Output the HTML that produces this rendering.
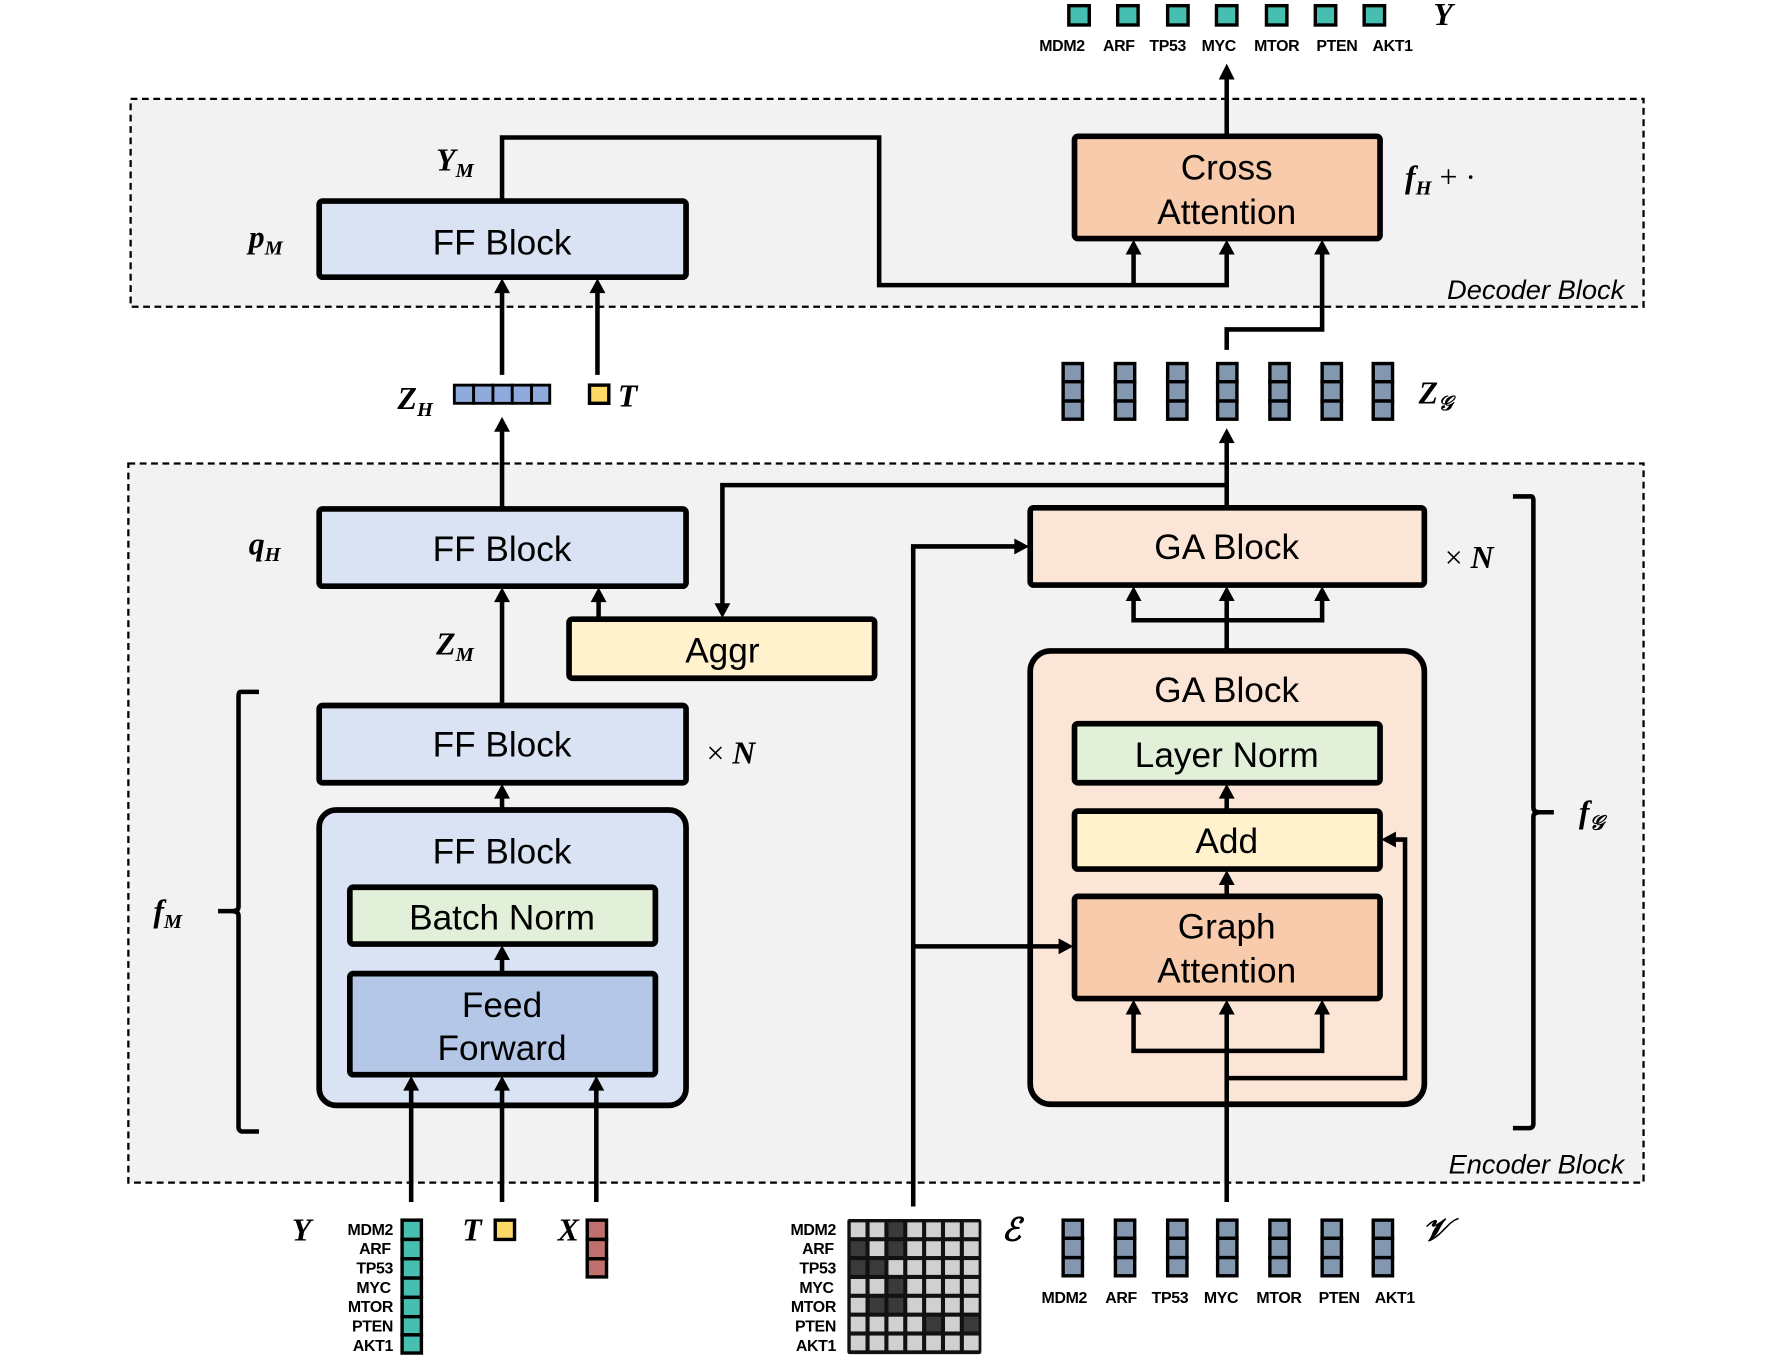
<!DOCTYPE html>
<html><head><meta charset="utf-8"><style>
html,body{margin:0;padding:0;background:#fff;}
svg{display:block;}
.box{stroke:#000;stroke-width:5;}
.bt{font-family:"Liberation Sans",sans-serif;font-size:31px;text-anchor:middle;fill:#000;}
.ln{stroke:#000;stroke-width:4;fill:none;}
.m{font-family:"Liberation Serif",serif;font-style:italic;font-weight:bold;font-size:28px;fill:#000;}
.ms{font-family:"Liberation Serif",serif;font-style:italic;font-weight:bold;font-size:18px;fill:#000;}
.g{font-family:"Liberation Sans",sans-serif;font-weight:bold;font-size:14px;fill:#000;letter-spacing:-0.3px;}
.blk{font-family:"Liberation Sans",sans-serif;font-style:italic;font-size:24px;fill:#000;text-anchor:end;}
</style></head><body>
<svg width="1781" height="1361" viewBox="0 0 1568 1198" preserveAspectRatio="none" xmlns="http://www.w3.org/2000/svg">
<!-- block backgrounds -->
<rect x="115" y="87" width="1332" height="183" fill="#f2f2f2" stroke="#000" stroke-width="2" stroke-dasharray="6,4"/>
<rect x="113" y="408" width="1334" height="633" fill="#f2f2f2" stroke="#000" stroke-width="2" stroke-dasharray="6,4"/>
<text class="blk" x="1430" y="263">Decoder Block</text>
<text class="blk" x="1430" y="1033">Encoder Block</text>

<!-- boxes -->
<rect class="box" x="281" y="177" width="323" height="67" rx="3" fill="#dae3f3"/>
<text class="bt" x="442" y="224">FF Block</text>
<rect class="box" x="946" y="120" width="269" height="90" rx="3" fill="#f8cbad"/>
<text class="bt" x="1080" y="158">Cross</text>
<text class="bt" x="1080" y="197">Attention</text>

<rect class="box" x="281" y="448" width="323" height="68" rx="3" fill="#dae3f3"/>
<text class="bt" x="442" y="494">FF Block</text>
<rect class="box" x="501" y="545" width="269" height="52" rx="3" fill="#fff2cc"/>
<text class="bt" x="636" y="583">Aggr</text>
<rect class="box" x="281" y="621" width="323" height="68" rx="3" fill="#dae3f3"/>
<text class="bt" x="442" y="666">FF Block</text>
<rect class="box" x="281" y="713" width="323" height="260" rx="15" fill="#dae3f3"/>
<text class="bt" x="442" y="760">FF Block</text>
<rect class="box" x="308" y="781" width="269" height="50" rx="3" fill="#e2f0d9"/>
<text class="bt" x="442" y="818">Batch Norm</text>
<rect class="box" x="308" y="857" width="269" height="89" rx="3" fill="#b4c7e7"/>
<text class="bt" x="442" y="895">Feed</text>
<text class="bt" x="442" y="933">Forward</text>

<rect class="box" x="907" y="447" width="347" height="68" rx="3" fill="#fbe5d6"/>
<text class="bt" x="1080" y="492">GA Block</text>
<rect class="box" x="907" y="573" width="347" height="399" rx="18" fill="#fbe5d6"/>
<text class="bt" x="1080" y="618">GA Block</text>
<rect class="box" x="946" y="637" width="269" height="52" rx="3" fill="#e2f0d9"/>
<text class="bt" x="1080" y="675">Layer Norm</text>
<rect class="box" x="946" y="714" width="269" height="51" rx="3" fill="#fff2cc"/>
<text class="bt" x="1080" y="751">Add</text>
<rect class="box" x="946" y="789" width="269" height="90" rx="3" fill="#f8cbad"/>
<text class="bt" x="1080" y="826">Graph</text>
<text class="bt" x="1080" y="865">Attention</text>

<!-- connectors -->
<g class="ln">
<polyline points="1080,118 1080,68"/>
<polyline points="442,177 442,121 774,121 774,251 1080,251 1080,222"/>
<polyline points="998,251 998,222"/>
<polyline points="1080,308 1080,290 1164,290 1164,222"/>
<polyline points="442,330 442,256"/>
<polyline points="526,330 526,256"/>
<polyline points="442,446 442,378"/>
<polyline points="1080,446 1080,388"/>
<polyline points="1080,427 636,427 636,533"/>
<polyline points="527,545 527,528"/>
<polyline points="442,621 442,528"/>
<polyline points="442,713 442,701"/>
<polyline points="442,857 442,843"/>
<polyline points="362,1058 362,958"/>
<polyline points="442,1058 442,958"/>
<polyline points="525,1058 525,958"/>
<polyline points="804,1062 804,481 895,481"/>
<polyline points="804,833 934,833"/>
<polyline points="1080,1058 1080,891"/>
<polyline points="998,891 998,925 1164,925 1164,891"/>
<polyline points="1080,949 1237,949 1237,739 1227,739"/>
<polyline points="1080,787 1080,777"/>
<polyline points="1080,712 1080,701"/>
<polyline points="1080,573 1080,527"/>
<polyline points="998,527 998,546 1164,546 1164,527"/>
</g>
<!-- arrowheads -->
<g fill="#000">
<polygon points="1080,56 1073,70 1087,70"/>
<polygon points="1080,211 1073,224 1087,224"/>
<polygon points="998,211 991,224 1005,224"/>
<polygon points="1164,211 1157,224 1171,224"/>
<polygon points="442,245 435,258 449,258"/>
<polygon points="526,245 519,258 533,258"/>
<polygon points="442,367 435,380 449,380"/>
<polygon points="1080,377 1073,390 1087,390"/>
<polygon points="636,544 629,531 643,531"/>
<polygon points="527,517 520,530 534,530"/>
<polygon points="442,517 435,530 449,530"/>
<polygon points="442,690 435,703 449,703"/>
<polygon points="442,832 435,845 449,845"/>
<polygon points="362,947 355,960 369,960"/>
<polygon points="442,947 435,960 449,960"/>
<polygon points="525,947 518,960 532,960"/>
<polygon points="906,481 893,474 893,488"/>
<polygon points="945,833 932,826 932,840"/>
<polygon points="1080,880 1073,893 1087,893"/>
<polygon points="998,880 991,893 1005,893"/>
<polygon points="1164,880 1157,893 1171,893"/>
<polygon points="1216,739 1229,732 1229,746"/>
<polygon points="1080,766 1073,779 1087,779"/>
<polygon points="1080,690 1073,703 1087,703"/>
<polygon points="1080,516 1073,529 1087,529"/>
<polygon points="998,516 991,529 1005,529"/>
<polygon points="1164,516 1157,529 1171,529"/>
</g>

<!-- braces -->
<g class="ln" stroke-width="4">
<path d="M228,609 L212,609 Q210,609 210,613 L210,798 Q210,802 204,802 L192,802 M204,802 Q210,802 210,806 L210,992 Q210,996 214,996 L228,996"/>
<path d="M1332,437 L1348,437 Q1350,437 1350,441 L1350,711 Q1350,715 1356,715 L1368,715 M1356,715 Q1350,715 1350,719 L1350,989 Q1350,993 1346,993 L1332,993"/>
</g>

<!-- math labels -->
<text class="m" x="384" y="150">Y<tspan class="ms" dy="6">M</tspan></text>
<text class="m" x="219" y="218">p<tspan class="ms" dy="6">M</tspan></text>
<text class="m" x="1237" y="165">f<tspan class="ms" dy="6">H</tspan><tspan dy="-6" font-style="normal" font-weight="normal"> + ·</tspan></text>
<text class="m" x="350" y="360">Z<tspan class="ms" dy="6">H</tspan></text>
<text class="m" x="544" y="358">T</text>
<text class="m" x="1249" y="355">Z<tspan class="ms" dy="6">𝒢</tspan></text>
<text class="m" x="219" y="488">q<tspan class="ms" dy="6">H</tspan></text>
<text class="m" x="384" y="576">Z<tspan class="ms" dy="6">M</tspan></text>
<text class="m" x="622" y="672"><tspan font-style="normal" font-weight="normal">× </tspan>N</text>
<text class="m" x="1272" y="500"><tspan font-style="normal" font-weight="normal">× </tspan>N</text>
<text class="m" x="135" y="811">f<tspan class="ms" dy="6">M</tspan></text>
<text class="m" x="1390" y="724">f<tspan class="ms" dy="6">𝒢</tspan></text>
<text class="m" x="1262" y="22">Y</text>
<text class="m" x="257" y="1092">Y</text>
<text class="m" x="407" y="1092">T</text>
<text class="m" x="491" y="1092">X</text>
<text class="m" x="882" y="1092">ℰ</text>
<text class="m" x="1252" y="1092">𝒱</text>

<!-- top Y vector -->
<g fill="#47bfb0" stroke="#000" stroke-width="3">
<rect x="941" y="5" width="18" height="17"/><rect x="984" y="5" width="18" height="17"/><rect x="1028" y="5" width="18" height="17"/><rect x="1071" y="5" width="18" height="17"/><rect x="1115" y="5" width="18" height="17"/><rect x="1158" y="5" width="18" height="17"/><rect x="1201" y="5" width="18" height="17"/>
</g>
<g class="g" text-anchor="middle">
<text x="935" y="45">MDM2</text><text x="985" y="45">ARF</text><text x="1028" y="45">TP53</text><text x="1073" y="45">MYC</text><text x="1124" y="45">MTOR</text><text x="1177" y="45">PTEN</text><text x="1226" y="45">AKT1</text>
</g>

<!-- Z_H and T -->
<g fill="#8faadc" stroke="#000" stroke-width="2.5">
<rect x="400" y="339" width="17" height="16"/><rect x="417" y="339" width="17" height="16"/><rect x="434" y="339" width="17" height="16"/><rect x="451" y="339" width="17" height="16"/><rect x="468" y="339" width="16" height="16"/>
</g>
<rect x="519" y="339" width="17" height="16" fill="#ffd966" stroke="#000" stroke-width="3"/>

<!-- Z_G and V columns -->
<g fill="#8497b0" stroke="#000" stroke-width="3">
<g id="col"><rect x="936" y="320" width="17" height="16"/><rect x="936" y="336" width="17" height="17"/><rect x="936" y="353" width="17" height="16"/></g>
<use href="#col" x="46"/><use href="#col" x="92"/><use href="#col" x="136"/><use href="#col" x="182"/><use href="#col" x="228"/><use href="#col" x="273"/>
<use href="#col" x="0" y="754"/><use href="#col" x="46" y="754"/><use href="#col" x="92" y="754"/><use href="#col" x="136" y="754"/><use href="#col" x="182" y="754"/><use href="#col" x="228" y="754"/><use href="#col" x="273" y="754"/>
</g>
<g class="g" text-anchor="middle">
<text x="937" y="1147">MDM2</text><text x="987" y="1147">ARF</text><text x="1030" y="1147">TP53</text><text x="1075" y="1147">MYC</text><text x="1126" y="1147">MTOR</text><text x="1179" y="1147">PTEN</text><text x="1228" y="1147">AKT1</text>
</g>

<!-- bottom left Y column -->
<g fill="#47bfb0" stroke="#000" stroke-width="3">
<rect x="354" y="1074" width="17" height="17"/><rect x="354" y="1091" width="17" height="17"/><rect x="354" y="1108" width="17" height="17"/><rect x="354" y="1125" width="17" height="17"/><rect x="354" y="1142" width="17" height="17"/><rect x="354" y="1159" width="17" height="16"/><rect x="354" y="1175" width="17" height="16"/>
</g>
<g class="g" text-anchor="end">
<text x="346" y="1087">MDM2</text><text x="344" y="1104">ARF</text><text x="346" y="1121">TP53</text><text x="344" y="1138">MYC</text><text x="346" y="1155">MTOR</text><text x="346" y="1172">PTEN</text><text x="346" y="1189">AKT1</text>
</g>
<rect x="436" y="1074" width="17" height="17" fill="#ffd966" stroke="#000" stroke-width="3"/>
<g fill="#c0706c" stroke="#000" stroke-width="3">
<rect x="517" y="1074" width="17" height="17"/><rect x="517" y="1091" width="17" height="17"/><rect x="517" y="1108" width="17" height="16"/>
</g>

<!-- matrix -->
<rect x="746" y="1073" width="118" height="119" fill="#111" rx="2"/>
<g fill="#d0d0d0">
<rect x="749" y="1076" width="13" height="13"/><rect x="765.6" y="1076" width="13" height="13"/><rect x="782.2" y="1076" width="13" height="13" fill="#3a3a3a"/><rect x="798.8" y="1076" width="13" height="13"/><rect x="815.4" y="1076" width="13" height="13"/><rect x="832" y="1076" width="13" height="13"/><rect x="848.6" y="1076" width="13" height="13"/>
<rect x="749" y="1092.6" width="13" height="13" fill="#3a3a3a"/><rect x="765.6" y="1092.6" width="13" height="13"/><rect x="782.2" y="1092.6" width="13" height="13" fill="#3a3a3a"/><rect x="798.8" y="1092.6" width="13" height="13"/><rect x="815.4" y="1092.6" width="13" height="13"/><rect x="832" y="1092.6" width="13" height="13"/><rect x="848.6" y="1092.6" width="13" height="13"/>
<rect x="749" y="1109.2" width="13" height="13" fill="#3a3a3a"/><rect x="765.6" y="1109.2" width="13" height="13" fill="#3a3a3a"/><rect x="782.2" y="1109.2" width="13" height="13"/><rect x="798.8" y="1109.2" width="13" height="13"/><rect x="815.4" y="1109.2" width="13" height="13"/><rect x="832" y="1109.2" width="13" height="13"/><rect x="848.6" y="1109.2" width="13" height="13"/>
<rect x="749" y="1125.8" width="13" height="13"/><rect x="765.6" y="1125.8" width="13" height="13"/><rect x="782.2" y="1125.8" width="13" height="13" fill="#3a3a3a"/><rect x="798.8" y="1125.8" width="13" height="13"/><rect x="815.4" y="1125.8" width="13" height="13"/><rect x="832" y="1125.8" width="13" height="13"/><rect x="848.6" y="1125.8" width="13" height="13"/>
<rect x="749" y="1142.4" width="13" height="13"/><rect x="765.6" y="1142.4" width="13" height="13" fill="#3a3a3a"/><rect x="782.2" y="1142.4" width="13" height="13" fill="#3a3a3a"/><rect x="798.8" y="1142.4" width="13" height="13"/><rect x="815.4" y="1142.4" width="13" height="13"/><rect x="832" y="1142.4" width="13" height="13"/><rect x="848.6" y="1142.4" width="13" height="13"/>
<rect x="749" y="1159" width="13" height="13"/><rect x="765.6" y="1159" width="13" height="13"/><rect x="782.2" y="1159" width="13" height="13"/><rect x="798.8" y="1159" width="13" height="13"/><rect x="815.4" y="1159" width="13" height="13" fill="#3a3a3a"/><rect x="832" y="1159" width="13" height="13"/><rect x="848.6" y="1159" width="13" height="13" fill="#3a3a3a"/>
<rect x="749" y="1175.6" width="13" height="13"/><rect x="765.6" y="1175.6" width="13" height="13"/><rect x="782.2" y="1175.6" width="13" height="13"/><rect x="798.8" y="1175.6" width="13" height="13"/><rect x="815.4" y="1175.6" width="13" height="13"/><rect x="832" y="1175.6" width="13" height="13"/><rect x="848.6" y="1175.6" width="13" height="13"/>
</g>
<g class="g" text-anchor="end">
<text x="736" y="1087">MDM2</text><text x="734" y="1104">ARF</text><text x="736" y="1121">TP53</text><text x="734" y="1138">MYC</text><text x="736" y="1155">MTOR</text><text x="736" y="1172">PTEN</text><text x="736" y="1189">AKT1</text>
</g>
</svg>
</body></html>
